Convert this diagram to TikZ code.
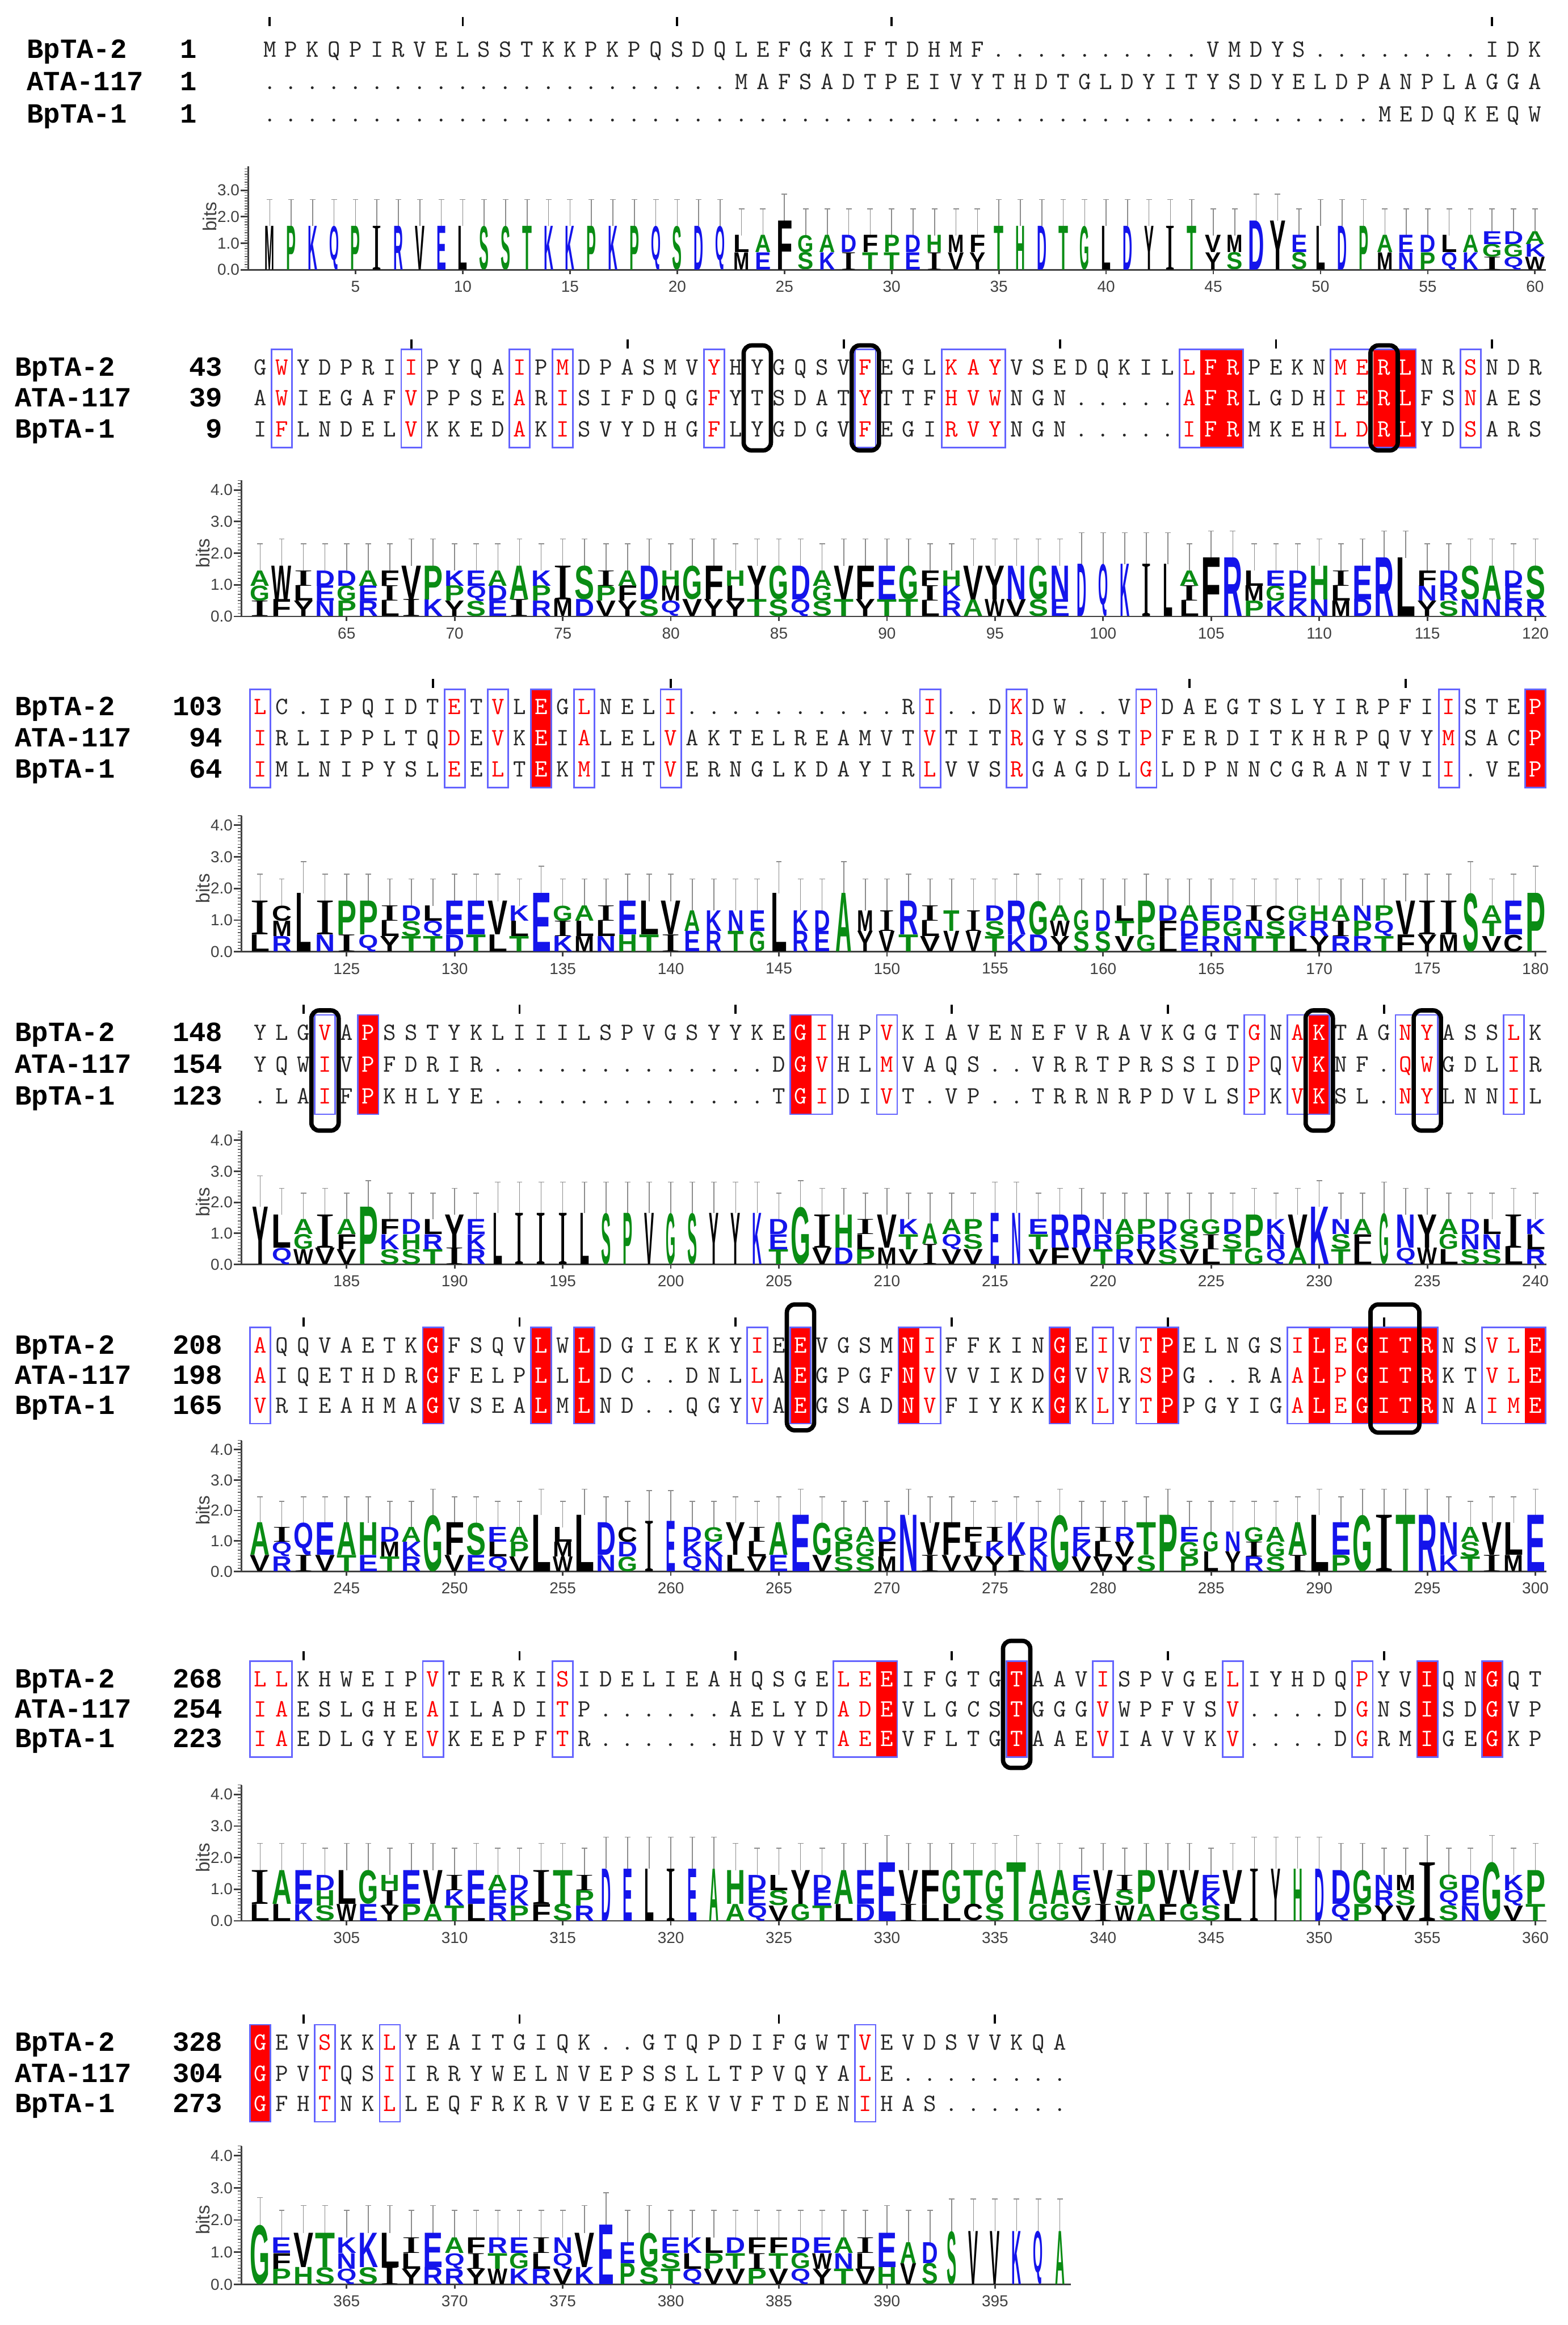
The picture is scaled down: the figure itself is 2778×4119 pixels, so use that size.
\documentclass[tikz,border=0pt]{standalone}
\usepackage{fontspec}
\usepackage{graphicx}
\newfontfamily\labfont{Liberation Mono}
\newfontfamily\logofont{Liberation Sans}
\newfontfamily\logoserif{Liberation Serif}
\definecolor{wlblue}{RGB}{20,20,235}
\definecolor{wlgreen}{RGB}{10,140,20}
\definecolor{wlblack}{RGB}{0,0,0}
\colorlet{lgR}{wlblue}\colorlet{lgK}{wlblue}\colorlet{lgD}{wlblue}\colorlet{lgE}{wlblue}\colorlet{lgN}{wlblue}\colorlet{lgQ}{wlblue}
\colorlet{lgS}{wlgreen}\colorlet{lgG}{wlgreen}\colorlet{lgH}{wlgreen}\colorlet{lgT}{wlgreen}\colorlet{lgA}{wlgreen}\colorlet{lgP}{wlgreen}
\colorlet{lgY}{wlblack}\colorlet{lgV}{wlblack}\colorlet{lgM}{wlblack}\colorlet{lgC}{wlblack}\colorlet{lgL}{wlblack}\colorlet{lgF}{wlblack}\colorlet{lgI}{wlblack}\colorlet{lgW}{wlblack}
\definecolor{espred}{RGB}{255,0,0}
\definecolor{frameblue}{RGB}{100,100,255}
\colorlet{seqgray}{black!85}
\tikzset{
 seqch/.style={font=\ttfamily\fontsize{12.5}{12.5}\selectfont,inner sep=0pt,anchor=base},
 labtxt/.style={font=\labfont\bfseries\fontsize{14}{14}\selectfont,inner sep=0pt,anchor=base west},
 numtxt/.style={font=\labfont\bfseries\fontsize{14}{14}\selectfont,inner sep=0pt,anchor=base east},
 logoletter/.style={inner sep=0pt,outer sep=0pt,anchor=south},
 ebar/.style={draw=black!45,line width=0.45pt},
 axl/.style={draw=black!75,line width=0.8pt},
 axminor/.style={draw=black!65,line width=0.4pt},
 axlab/.style={font=\logofont\fontsize{8}{8}\selectfont,text=black!75,inner sep=0pt},
 axnum/.style={font=\logofont\fontsize{8}{8}\selectfont,text=black!75,inner sep=0pt},
 bitslab/.style={font=\logofont\fontsize{9.5}{9.5}\selectfont,text=black!75,inner sep=0pt},
 frm/.style={draw=frameblue,line width=0.8pt},
 bbox/.style={draw=black,line width=2.2pt,rounded corners=1.4mm},
 tickm/.style={draw=black,line width=1.1pt},
}
% sequences
\def\SAa{MPKQPIRVELSSTKKPKPQSDQLEFGKIFTDHMF..........VMDYS........IDK}
\def\SBa{......................MAFSADTPEIVYTHDTGLDYITYSDYELDPANPLAGGA}
\def\SCa{....................................................MEDQKEQW}
\def\SAb{GWYDPRIIPYQAIPMDPASMVYHYGQSVFEGLKAYVSEDQKILLFRPEKNMERLNRSNDR}
\def\SBb{AWIEGAFVPPSEARISIFDQGFYTSDATYTTFHVWNGN.....AFRLGDHIERLFSNAES}
\def\SCb{IFLNDELVKKEDAKISVYDHGFLYGDGVFEGIRVYNGN.....IFRMKEHLDRLYDSARS}
\def\SAc{LC.IPQIDTETVLEGLNELI..........RI..DKDW..VPDAEGTSLYIRPFIISTEP}
\def\SBc{IRLIPPLTQDEVKEIALELVAKTELREAMVTVTITRGYSSTPFERDITKHRPQVYMSACP}
\def\SCc{IMLNIPYSLEELTEKMIHTVERNGLKDAYIRLVVSRGAGDLGLDPNNCGRANTVII.VEP}
\def\SAd{YLGVAPSSTYKLIIILSPVGSYYKEGIHPVKIAVENEFVRAVKGGTGNAKTAGNYASSLK}
\def\SBd{YQWIVPFDRIR.............DGVHLMVAQS..VRRTPRSSIDPQVKNF.QWGDLIR}
\def\SCd{.LAIFPKHLYE.............TGIDIVT.VP..TRRNRPDVLSPKVKSL.NYLNNIL}
\def\SAe{AQQVAETKGFSQVLWLDGIEKKYIEEVGSMNIFFKINGEIVTPELNGSILEGITRNSVLE}
\def\SBe{AIQETHDRGFELPLLLDC..DNLLAEGPGFNVVVIKDGVVRSPG..RAALPGITRKTVLE}
\def\SCe{VRIEAHMAGVSEALMLND..QGYVAEGSADNVFIYKKGKLYTPPGYIGALEGITRNAIME}
\def\SAf{LLKHWEIPVTERKISIDELIEAHQSGELEEIFGTGTAAVISPVGELIYHDQPYVIQNGQT}
\def\SBf{IAESLGHEAILADITP......AELYDADEVLGCSTGGGVWPFVSV....DGNSISDGVP}
\def\SCf{IAEDLGYEVKEEPFTR......HDVYTAEEVFLTGTAAEVIAVVKV....DGRMIGEGKP}
\def\SAg{GEVSKKLYEAITGIQK..GTQPDIFGWTVEVDSVVKQA}
\def\SBg{GPVTQSIIRRYWELNVEPSSLLTPVQYALE........}
\def\SCg{GFHTNKLLEQFRKRVVEEGEKVVFTDENIHAS......}

\ExplSyntaxOn
\str_new:N \l_aln_s_str
\str_new:N \l_lg_sa_str
\str_new:N \l_lg_sb_str
\str_new:N \l_lg_sc_str
\int_new:N \l_aln_col_int
\tl_new:N \l_aln_x_tl
\tl_new:N \l_aln_y_tl
\tl_new:N \l_aln_c_tl
\clist_new:N \l_aln_red_clist
\clist_new:N \l_aln_frm_clist
\seq_new:N \l_lg_seq
\tl_new:N \l_lg_a_tl
\tl_new:N \l_lg_b_tl
\tl_new:N \l_lg_c_tl
\tl_new:N \l_lg_p_tl
\tl_new:N \l_lg_q_tl
\tl_new:N \l_lg_r_tl
\tl_new:N \l_lg_x_tl
\tl_new:N \l_lg_yb_tl
\tl_new:N \l_lg_yt_tl
\tl_new:N \l_lg_ye_tl
\tl_new:N \l_lg_xa_tl
\tl_new:N \l_lg_xb_tl
\tl_new:N \l_lg_h_tl
\tl_new:N \l_lg_w_tl
\tl_new:N \l_lg_wf_tl
\tl_new:N \l_lg_zero_tl
\tl_new:N \l_lg_bit_tl

\NewDocumentCommand \SetHL { m m }
 { \clist_set:Nn \l_aln_frm_clist {#1} \clist_set:Nn \l_aln_red_clist {#2} }

\NewDocumentCommand \SeqRow { m m }
 {
  \str_set:Nx \l_aln_s_str {#2}
  \int_zero:N \l_aln_col_int
  \tl_set:Nx \l_aln_y_tl { \fp_eval:n { #1 + 13 } }
  \str_map_inline:Nn \l_aln_s_str
   {
    \int_incr:N \l_aln_col_int
    \tl_set:Nx \l_aln_x_tl { \fp_eval:n { \xz + ( \int_use:N \l_aln_col_int - 1 ) * \pp } }
    \tl_set:Nx \l_tmpa_tl { \int_use:N \l_aln_col_int }
    \clist_if_in:NVTF \l_aln_red_clist \l_tmpa_tl
     { \tl_set:Nn \l_aln_c_tl { white } }
     { \clist_if_in:NVTF \l_aln_frm_clist \l_tmpa_tl
        { \tl_set:Nn \l_aln_c_tl { espred } }
        { \tl_set:Nn \l_aln_c_tl { seqgray } } }
    \node[seqch,text=\l_aln_c_tl]at(\l_aln_x_tl,\l_aln_y_tl){##1};
   }
 }

\cs_new_protected:Npn \lg_bar:nn #1#2
 {
  \tl_set:Nx \l_lg_yt_tl { \fp_eval:n { \l_lg_zero_tl - (#1) * \l_lg_bit_tl } }
  \tl_set:Nx \l_lg_ye_tl { \fp_eval:n { \l_lg_zero_tl - (#1 + #2) * \l_lg_bit_tl } }
  \tl_set:Nx \l_lg_xa_tl { \fp_eval:n { \l_lg_x_tl - 5 } }
  \tl_set:Nx \l_lg_xb_tl { \fp_eval:n { \l_lg_x_tl + 5 } }
  \draw[ebar](\l_lg_x_tl,\l_lg_yt_tl)--(\l_lg_x_tl,\l_lg_ye_tl);
  \draw[ebar](\l_lg_xa_tl,\l_lg_ye_tl)--(\l_lg_xb_tl,\l_lg_ye_tl);
 }

\cs_new_protected:Npn \lg_letter:nnn #1#2#3
 {
  \tl_set:Nx \l_lg_yb_tl { \fp_eval:n { \l_lg_zero_tl - (#2) * \l_lg_bit_tl } }
  \tl_set:Nx \l_lg_h_tl { \fp_eval:n { (#3) * \l_lg_bit_tl * 0.1 } mm }
  \tl_set:Nx \l_lg_w_tl { \fp_eval:n { \l_lg_wf_tl * \pp * 0.1 } mm }
  \str_if_eq:nnTF {#1} {I}
   { \node[logoletter]at(\l_lg_x_tl,\l_lg_yb_tl){\resizebox*{\l_lg_w_tl}{\l_lg_h_tl}{\logoserif\color{lgI}I}}; }
   { \node[logoletter]at(\l_lg_x_tl,\l_lg_yb_tl){\resizebox*{\l_lg_w_tl}{\l_lg_h_tl}{\logofont\bfseries\color{lg#1}#1}}; }
 }
\cs_generate_variant:Nn \lg_letter:nnn { Vnn }

\cs_new_protected:Npn \lg_column:n #1
 {
  \seq_clear:N \l_lg_seq
  \str_if_eq:VnF \l_lg_a_tl { . } { \seq_put_right:NV \l_lg_seq \l_lg_a_tl }
  \str_if_eq:VnF \l_lg_b_tl { . } { \seq_put_right:NV \l_lg_seq \l_lg_b_tl }
  \str_if_eq:VnF \l_lg_c_tl { . } { \seq_put_right:NV \l_lg_seq \l_lg_c_tl }
  \seq_sort:Nn \l_lg_seq
   { \int_compare:nNnTF { `##1 } < { `##2 } { \sort_return_swapped: } { \sort_return_same: } }
  \tl_set:Nx \l_lg_x_tl { \fp_eval:n { \xz + (#1 - 1) * \pp } }
  \tl_set:Nx \l_lg_p_tl { \seq_item:Nn \l_lg_seq {1} }
  \tl_set:Nx \l_lg_q_tl { \seq_item:Nn \l_lg_seq {2} }
  \tl_set:Nx \l_lg_r_tl { \seq_item:Nn \l_lg_seq {3} }
  \int_case:nn { \seq_count:N \l_lg_seq }
   {
    {1} { \tl_set:Nn \l_lg_wf_tl {0.45}
          \lg_bar:nn {1.65}{1.0}
          \lg_letter:Vnn \l_lg_p_tl {0} {1.65} }
    {2} { \tl_set:Nn \l_lg_wf_tl {0.75}
          \str_if_eq:VVTF \l_lg_p_tl \l_lg_q_tl
           { \lg_bar:nn {1.85}{1.0} \lg_letter:Vnn \l_lg_p_tl {0} {1.85} }
           { \lg_bar:nn {1.3}{1.0}
             \lg_letter:Vnn \l_lg_p_tl {0} {0.65}
             \lg_letter:Vnn \l_lg_q_tl {0.65} {0.65} } }
    {3} { \tl_set:Nn \l_lg_wf_tl {0.92}
          \str_if_eq:VVTF \l_lg_p_tl \l_lg_q_tl
           { \str_if_eq:VVTF \l_lg_q_tl \l_lg_r_tl
              { \lg_bar:nn {1.85}{0.85} \lg_letter:Vnn \l_lg_p_tl {0}{1.85} }
              { \lg_bar:nn {1.6}{0.85}
                \lg_letter:Vnn \l_lg_r_tl {0}{0.5333}
                \lg_letter:Vnn \l_lg_p_tl {0.5333}{1.0667} } }
           { \str_if_eq:VVTF \l_lg_q_tl \l_lg_r_tl
              { \lg_bar:nn {1.6}{0.85}
                \lg_letter:Vnn \l_lg_p_tl {0}{0.5333}
                \lg_letter:Vnn \l_lg_q_tl {0.5333}{1.0667} }
              { \lg_bar:nn {1.45}{0.85}
                \lg_letter:Vnn \l_lg_p_tl {0}{0.4833}
                \lg_letter:Vnn \l_lg_q_tl {0.4833}{0.4833}
                \lg_letter:Vnn \l_lg_r_tl {0.9667}{0.4833} } } }
   }
 }

\NewDocumentCommand \Logo { m m m m m }
 {
  \tl_set:Nn \l_lg_zero_tl {#1}
  \tl_set:Nn \l_lg_bit_tl {#2}
  \str_set:Nx \l_lg_sa_str {#3}
  \str_set:Nx \l_lg_sb_str {#4}
  \str_set:Nx \l_lg_sc_str {#5}
  \int_step_inline:nn { \str_count:N \l_lg_sa_str }
   {
    \tl_set:Nx \l_lg_a_tl { \str_item:Nn \l_lg_sa_str {##1} }
    \tl_set:Nx \l_lg_b_tl { \str_item:Nn \l_lg_sb_str {##1} }
    \tl_set:Nx \l_lg_c_tl { \str_item:Nn \l_lg_sc_str {##1} }
    \lg_column:n {##1}
   }
 }
\ExplSyntaxOff

\newcommand\Ticks[2]{\foreach \tc in {#1}{\draw[tickm] ({\xz+(\tc-1)*\pp},{#2-8}) -- ({\xz+(\tc-1)*\pp},{#2+8});}}
\newcommand\Frames[3]{\foreach \fa/\fb in {#1}{\draw[frm] ({\xz+(\fa-1.5)*\pp+1},#2) rectangle ({\xz+(\fb-0.5)*\pp-1},#3);}}
\newcommand\Reds[3]{\foreach \fa in {#1}{\fill[espred] ({\xz+(\fa-1.5)*\pp},#2) rectangle ({\xz+(\fa-0.5)*\pp},#3);}}
\newcommand\BBox[4]{\draw[bbox] ({\xz+(#1-1.5)*\pp-5},#3) rectangle ({\xz+(#2-0.5)*\pp+5},#4);}
\newcommand\Labels[8]{%
 \node[labtxt] at (#1,{#3+15}) {BpTA-2}; \node[numtxt] at (#2,{#3+15}) {#6};
 \node[labtxt] at (#1,{#4+15}) {ATA-117}; \node[numtxt] at (#2,{#4+15}) {#7};
 \node[labtxt] at (#1,{#5+15}) {BpTA-1}; \node[numtxt] at (#2,{#5+15}) {#8};}
\newcommand\LogoAxes[7]{% zero, bit, maxlab, topbits, firstnum, lastnum, axis x
  \draw[axl] (#7,#1) -- (#7,{#1-#4*#2});
  \pgfmathtruncatemacro\nminor{#4*10}
  \foreach \m in {1,...,\nminor}{\draw[axminor] (#7,{#1-\m*#2/10}) -- ({#7-7},{#1-\m*#2/10});}
  \foreach \k in {0,...,#3}{\draw[axl] (#7,{#1-\k*#2}) -- ({#7-14},{#1-\k*#2});
     \node[axlab,anchor=east] at ({#7-15},{#1-\k*#2}) {\k.0};}
  \node[bitslab,rotate=90] at ({#7-68},{#1-2*#2}) {bits};
  \draw[axl] (#7,#1) -- ({\xz+(#6-#5+0.5)*\pp},#1);
  \foreach \n in {#5,...,#6}{\pgfmathtruncatemacro\r{mod(\n,5)}\ifnum\r=0
     \draw[axl] ({\xz+(\n-#5)*\pp},#1) -- ({\xz+(\n-#5)*\pp},{#1+8});
     \node[axnum] at ({\xz+(\n-#5)*\pp},{#1+30}) {\n};\fi}
}

\begin{document}
\begin{tikzpicture}[x=0.1mm,y=-0.1mm]
\useasboundingbox (0,0) rectangle (2778,4119);
\fill[white] (0,0) rectangle (2778,4119);

% ---------------- Block 1
\def\xz{478}\def\pp{38.0}
\SetHL{}{}
\SeqRow{88}{\SAa}\SeqRow{145}{\SBa}\SeqRow{203}{\SCa}
\Labels{47}{350}{88}{145}{203}{1}{1}{1}
\Ticks{1,10,20,30,58}{38}
\LogoAxes{478}{47}{3}{3.9}{1}{60}{440}
\Logo{478}{47}{\SAa}{\SBa}{\SCa}

% ---------------- Block 2
\def\xz{461}\def\pp{38.3}
\SetHL{2,8,13,15,22,29,33,34,35,44,45,46,51,52,53,54,57}{45,46,53,54}
\Reds{45,46,53,54}{619}{793}
\Frames{2/2,8/8,13/13,15/15,22/22,29/29,33/35,44/46,51/54,57/57}{619}{793}
\SeqRow{651}{\SAb}\SeqRow{706}{\SBb}\SeqRow{761}{\SCb}
\Labels{26}{395}{651}{706}{761}{43}{39}{9}
\BBox{24}{24}{612}{798}\BBox{29}{29}{612}{798}\BBox{53}{53}{612}{798}
\Ticks{8,18,28,38,48,58}{609}
\LogoAxes{1092}{56}{4}{4.3}{61}{120}{428}
\Logo{1092}{56}{\SAb}{\SBb}{\SCb}

% ---------------- Block 3
\SetHL{1,10,12,14,16,20,32,36,42,56,60}{14,60}
\Reds{14,60}{1221}{1395}
\Frames{1/1,10/10,12/12,14/14,16/16,20/20,32/32,36/36,42/42,56/56,60/60}{1221}{1395}
\SeqRow{1253}{\SAc}\SeqRow{1308}{\SBc}\SeqRow{1363}{\SCc}
\Labels{26}{395}{1253}{1308}{1363}{103}{94}{64}
\Ticks{9,20,44,54}{1211}
\LogoAxes{1686}{56}{4}{4.3}{121}{180}{428}
\Logo{1686}{56}{\SAc}{\SBc}{\SCc}

% ---------------- Block 4
\SetHL{4,6,26,27,30,47,49,50,54,55,59}{6,26,50}
\Reds{6,26,50}{1798}{1974}
\Frames{4/4,6/6,26/27,30/30,47/47,49/50,54/55,59/59}{1798}{1974}
\SeqRow{1830}{\SAd}\SeqRow{1886}{\SBd}\SeqRow{1942}{\SCd}
\Labels{26}{395}{1830}{1886}{1942}{148}{154}{123}
\BBox{4}{4}{1790}{2003}\BBox{50}{50}{1790}{2003}\BBox{55}{55}{1790}{2003}
\Ticks{3,13,23,33,43,53}{1788}
\LogoAxes{2240}{55}{4}{4.3}{181}{240}{428}
\Logo{2240}{55}{\SAd}{\SBd}{\SCd}

% ---------------- Block 5
\SetHL{1,9,14,16,24,26,31,32,38,40,42,43,49,50,51,52,53,54,55,58,59,60}{9,14,16,26,31,38,43,50,52,53,54,55,60}
\Reds{9,14,16,26,31,38,43,50,52,53,54,55,60}{2352}{2522}
\Frames{1/1,9/9,14/14,16/16,24/24,26/26,31/32,38/38,40/40,42/43,49/55,58/60}{2352}{2522}
\SeqRow{2384}{\SAe}\SeqRow{2437}{\SBe}\SeqRow{2490}{\SCe}
\Labels{26}{395}{2384}{2437}{2490}{208}{198}{165}
\BBox{26}{26}{2311}{2534}\BBox{53}{54}{2311}{2538}
\Ticks{3,13,23,33,43,53}{2342}
\LogoAxes{2784}{54}{4}{4.3}{241}{300}{428}
\Logo{2784}{54}{\SAe}{\SBe}{\SCe}

% ---------------- Block 6
\SetHL{1,2,9,15,28,29,30,36,40,46,52,55,58}{30,36,55,58}
\Reds{30,36,55,58}{2943}{3113}
\Frames{1/2,9/9,15/15,28/30,36/36,40/40,46/46,52/52,55/55,58/58}{2943}{3113}
\SeqRow{2975}{\SAf}\SeqRow{3028}{\SBf}\SeqRow{3081}{\SCf}
\Labels{26}{395}{2975}{3028}{3081}{268}{254}{223}
\BBox{36}{36}{2907}{3132}
\Ticks{3,13,23,33,43,53}{2933}
\LogoAxes{3403}{56}{4}{4.3}{301}{360}{428}
\Logo{3403}{56}{\SAf}{\SBf}{\SCf}

% ---------------- Block 7
\SetHL{1,4,7,29}{1}
\Reds{1}{3587}{3759}
\Frames{1/1,4/4,7/7,29/29}{3587}{3759}
\SeqRow{3619}{\SAg}\SeqRow{3674}{\SBg}\SeqRow{3727}{\SCg}
\Labels{26}{395}{3619}{3674}{3727}{328}{304}{273}
\Ticks{3,13,25,35}{3577}
\LogoAxes{4047}{57}{4}{4.3}{361}{398}{428}
\Logo{4047}{57}{\SAg}{\SBg}{\SCg}
\end{tikzpicture}
\end{document}
